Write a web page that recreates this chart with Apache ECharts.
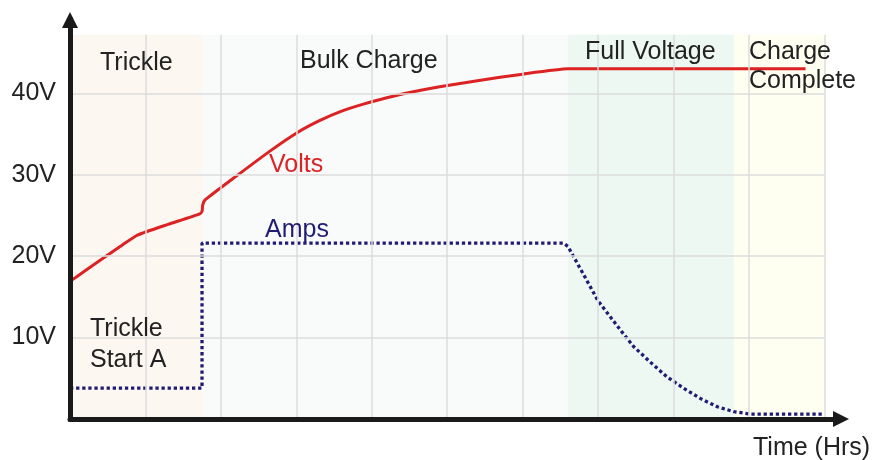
<!DOCTYPE html>
<html>
<head>
<meta charset="utf-8">
<script src="https://cdn.jsdelivr.net/npm/echarts@6/dist/echarts.min.js"></script>
<style>
html,body{margin:0;padding:0;background:#fff;}
#chart{width:875px;height:460px;}
</style>
</head>
<body>
<div id="chart"></div>
<script>
// ---- data ----
const phaseNames = ['Trickle', 'Bulk Charge', 'Full Voltage', 'Charge Complete'];
const phaseBounds = [0, 1.75, 6.6, 8.8, 10];
const xGridTicks = [1, 2, 3, 4, 5, 6, 7, 8, 9, 10];
const yTicks = [10, 20, 30, 40];
const voltsData = [
  [0, 16.9], [0.2, 18.2], [0.4, 19.5], [0.65, 21.1], [0.9, 22.6], [1.3, 23.9],
  [1.72, 25.2], [1.75, 25.5], [1.76, 26.3], [1.79, 26.9], [2.2, 29.8], [2.65, 32.9],
  [3.0, 35.1], [3.3, 36.6], [3.6, 37.8], [3.9, 38.7], [4.2, 39.45], [4.5, 40.1],
  [4.9, 40.8], [5.4, 41.55], [6.0, 42.35], [6.6, 43.0], [9.75, 43.0]
];
const ampsData = [
  [0, 3.8], [1.75, 3.8], [1.75, 21.6], [6.54, 21.6], [6.6, 21.2], [6.66, 20.2],
  [6.81, 17.7], [7.0, 14.5], [7.29, 11.0], [7.47, 8.9], [7.69, 7.0], [7.91, 5.2],
  [8.13, 3.8], [8.36, 2.5], [8.58, 1.5], [8.8, 0.9], [9.02, 0.6], [10, 0.6]
];
const plotTop = 47.2;

// ---- styles ----
const phaseColors = ['#fdf7f2', '#f9fafa', '#eef8f3', '#fefef1'];
const FONT = '"Liberation Sans", Arial, sans-serif';

const chart = echarts.init(document.getElementById('chart'), null, {renderer: 'canvas'});

const areas = phaseNames.map((n, i) => [
  {xAxis: phaseBounds[i], yAxis: 0, itemStyle: {color: phaseColors[i]}},
  {xAxis: phaseBounds[i + 1], yAxis: plotTop}
]);
const vLines = xGridTicks.map(x => [{coord: [x, 0]}, {coord: [x, plotTop]}]);
const hLines = yTicks.map(y => [{coord: [0, y]}, {coord: [phaseBounds[phaseBounds.length - 1], y]}]);

function txt(text, x, y, color) {
  return {
    type: 'text', x: x, y: y, z: 50,
    style: {text: text, fill: color || '#222', fontSize: 25, fontFamily: FONT,
            align: 'left', verticalAlign: 'middle'}
  };
}

const option = {
  animation: false,
  backgroundColor: '#ffffff',
  grid: {left: 70, right: 34, top: 20, bottom: 41},
  xAxis: {
    type: 'value', min: 0, max: 10.22, z: 10,
    axisLine: {show: true, symbol: ['none', 'triangle'], symbolSize: [16, 16],
      lineStyle: {color: '#1a1a1a', width: 5}},
    axisTick: {show: false}, axisLabel: {show: false}, splitLine: {show: false}
  },
  yAxis: {
    type: 'value', min: 0, max: 49, interval: 10, z: 10,
    axisLine: {show: true, symbol: ['none', 'triangle'], symbolSize: [16, 16],
      lineStyle: {color: '#1a1a1a', width: 5, cap: 'square'}},
    axisTick: {show: false},
    axisLabel: {
      margin: 14, color: '#222', fontSize: 25, fontFamily: FONT,
      formatter: v => yTicks.includes(v) ? v + 'V' : ''
    },
    splitLine: {show: false}
  },
  series: [
    {
      type: 'line', data: [], z: 0, silent: true,
      markArea: {silent: true, data: areas, label: {show: false}}
    },
    {
      type: 'line', data: [], z: 1, silent: true,
      markLine: {silent: true, symbol: 'none', label: {show: false},
        lineStyle: {color: '#dddddd', width: 1.5, type: 'solid'},
        data: vLines.concat(hLines)}
    },
    {
      name: 'Volts', type: 'line', data: voltsData, showSymbol: false, z: 3,
      smooth: 0.15,
      lineStyle: {color: '#dc2222', width: 3}
    },
    {
      name: 'Amps', type: 'line', data: ampsData, showSymbol: false, z: 3,
      lineStyle: {color: '#211c73', width: 3.3, type: [3.3, 2.8]}
    }
  ],
  graphic: [
    txt('Trickle', 100, 63),
    txt('Bulk Charge', 300, 61),
    txt('Full Voltage', 585, 52),
    txt('Charge', 749, 52),
    txt('Complete', 749, 81),
    txt('Volts', 269, 165, '#dc2222'),
    txt('Amps', 265, 230, '#211c73'),
    txt('Trickle', 90, 329),
    txt('Start A', 90, 360),
    txt('Time (Hrs)', 753, 448)
  ]
};
chart.setOption(option);
</script>
</body>
</html>
